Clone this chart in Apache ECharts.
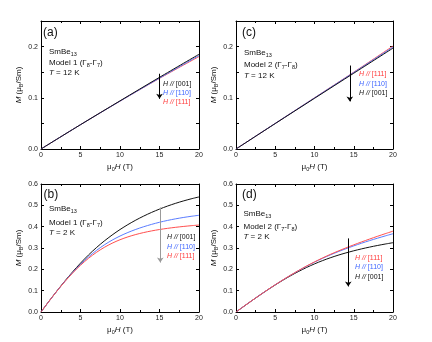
<!DOCTYPE html>
<html><head><meta charset="utf-8">
<script src="https://cdn.jsdelivr.net/npm/echarts@6/dist/echarts.min.js"></script>
<style>html,body{margin:0;padding:0;background:#fff}#c{width:432px;height:342px}</style>
</head><body><div id="c"></div>
<script>
// ---- data ----
const fieldsLin = [0, 5, 10, 15, 20];
const a001 = [0, 0.0475, 0.0940, 0.1400, 0.1850];
const a110 = [0, 0.0475, 0.0935, 0.1385, 0.1825];
const a111 = [0, 0.0475, 0.0935, 0.1380, 0.1805];
const c111 = [0, 0.0500, 0.1000, 0.1500, 0.2010];
const c110 = [0, 0.0500, 0.0998, 0.1495, 0.1990];
const c001 = [0, 0.0497, 0.0990, 0.1480, 0.1970];

const fields = [0,1,2,3,4,5,6,7,8,9,10,11,12,13,14,15,16,17,18,19,20];
const b001 = [0,0.0498,0.0980,0.1442,0.1880,0.2290,0.2668,0.3013,0.3325,0.3608,0.3865,0.4097,0.4307,0.4497,0.4669,0.4824,0.4964,0.5090,0.5203,0.5304,0.5394];
const b110 = [0,0.0497,0.0975,0.1427,0.1848,0.2233,0.2578,0.2881,0.3143,0.3368,0.3561,0.3727,0.3871,0.3997,0.4108,0.4206,0.4291,0.4365,0.4429,0.4485,0.4534];
const b111 = [0,0.0497,0.0972,0.1417,0.1825,0.2191,0.2513,0.2791,0.3027,0.3224,0.3387,0.3521,0.3632,0.3724,0.3801,0.3866,0.3921,0.3968,0.4009,0.4045,0.4077];
const d111 = [0,0.0265,0.0527,0.0784,0.1034,0.1276,0.1511,0.1737,0.1953,0.2157,0.2349,0.2529,0.2697,0.2855,0.3005,0.3148,0.3285,0.3417,0.3545,0.3669,0.3790];
const d110 = [0,0.0265,0.0527,0.0784,0.1034,0.1276,0.1510,0.1734,0.1947,0.2148,0.2337,0.2512,0.2674,0.2825,0.2966,0.3099,0.3225,0.3344,0.3457,0.3565,0.3669];
const d001 = [0,0.0265,0.0526,0.0782,0.1030,0.1269,0.1496,0.1709,0.1907,0.2089,0.2255,0.2405,0.2540,0.2661,0.2770,0.2869,0.2959,0.3041,0.3116,0.3185,0.3249];

// arrows: [x, yStart, yEnd]
const arrowA = [15, 0.147, 0.098];
const arrowC = [14.5, 0.163, 0.093];
const arrowB = [15.1, 0.49, 0.232];
const arrowD = [14.3, 0.345, 0.12];

// ---- styling ----
const FONT = 'Liberation Sans, Arial, sans-serif';
const BLACK = '#111111', BLUE = '#5a7cff', RED = '#ff4f4f';
const TXT_BLUE = '#3f66ff', TXT_RED = '#ff3b3b';

const grids = [
  {left: 41, top: 21, width: 158, height: 128},   // (a)
  {left: 236, top: 21, width: 157, height: 128},  // (c)
  {left: 41, top: 184, width: 158, height: 128},  // (b)
  {left: 236, top: 184, width: 157, height: 128}  // (d)
];
const yMax = [0.25, 0.25, 0.6, 0.6];
const yInt = [0.05, 0.05, 0.1, 0.1];

const subRich = {
  n: {fontSize: 8, fontFamily: FONT, lineHeight: 11, verticalAlign: 'middle', color: '#111'},
  i: {fontSize: 8, fontFamily: FONT, fontStyle: 'italic', lineHeight: 11, verticalAlign: 'middle', color: '#111'},
  s: {fontSize: 5.5, fontFamily: FONT, lineHeight: 11, verticalAlign: 'bottom', color: '#111'}
};

const xAxes = [], yAxes = [];
grids.forEach((g, k) => {
  xAxes.push({
    gridIndex: k, type: 'value', min: 0, max: 20, interval: 5, position: 'bottom',
    axisLine: {show: true, onZero: false, lineStyle: {color: '#000', width: 1}},
    axisTick: {show: true, inside: true, length: 3, lineStyle: {color: '#000'}},
    minorTick: {show: true, splitNumber: 2, length: 2, lineStyle: {color: '#000'}},
    splitLine: {show: false},
    axisLabel: {fontSize: 7, fontFamily: FONT, color: '#222', margin: 3},
    name: '{n|μ}{s|0}{i|H}{n| (T)}', nameLocation: 'middle', nameGap: 12,
    nameTextStyle: {rich: subRich}
  });
  xAxes.push({
    gridIndex: k, type: 'value', min: 0, max: 20, interval: 5, position: 'top',
    axisLine: {show: true, onZero: false, lineStyle: {color: '#000', width: 1}},
    axisTick: {show: true, inside: true, length: 3, lineStyle: {color: '#000'}},
    minorTick: {show: true, splitNumber: 2, length: 2, lineStyle: {color: '#000'}},
    splitLine: {show: false}, axisLabel: {show: false}
  });
  yAxes.push({
    gridIndex: k, type: 'value', min: 0, max: yMax[k], interval: yInt[k], position: 'left',
    axisLine: {show: true, onZero: false, lineStyle: {color: '#000', width: 1}},
    axisTick: {show: true, inside: true, length: 3, lineStyle: {color: '#000'}},
    splitLine: {show: false},
    axisLabel: {fontSize: 7, fontFamily: FONT, color: '#222', margin: 3, showMaxLabel: k >= 2,
      formatter: v => (Math.round(v * 100) % 10 === 0 ? v.toFixed(1) : '')},
    name: '{i|M}{n| (μ}{s|B}{n|/Sm)}', nameLocation: 'middle', nameGap: k % 2 === 0 ? 13 : 10.5,
    nameRotate: 90, nameTextStyle: {rich: subRich}
  });
  yAxes.push({
    gridIndex: k, type: 'value', min: 0, max: yMax[k], interval: yInt[k], position: 'right',
    axisLine: {show: true, onZero: false, lineStyle: {color: '#000', width: 1}},
    axisTick: {show: true, inside: true, length: 3, lineStyle: {color: '#000'}},
    splitLine: {show: false}, axisLabel: {show: false}
  });
});

function pairs(xs, ys) { return xs.map((x, i) => [x, ys[i]]); }
function line(k, xs, ys, color, arrow, arrowColor) {
  const s = {
    type: 'line', xAxisIndex: 2 * k, yAxisIndex: 2 * k, data: pairs(xs, ys),
    smooth: 0.3, showSymbol: false, symbol: 'none', silent: true,
    lineStyle: {color: color, width: 1}, z: 3
  };
  if (arrow) {
    s.markLine = {
      silent: true, symbol: ['none', 'arrow'], symbolSize: 5,
      label: {show: false}, emphasis: {disabled: true},
      lineStyle: {color: arrowColor, width: 1, type: 'solid'},
      data: [[{coord: [arrow[0], arrow[1]]}, {coord: [arrow[0], arrow[2]]}]]
    };
  }
  return s;
}

const series = [
  // (a)
  line(0, fieldsLin, a111, RED, arrowA, '#000'),
  line(0, fieldsLin, a110, BLUE),
  line(0, fieldsLin, a001, BLACK),
  // (c)
  line(1, fieldsLin, c111, RED, arrowC, '#000'),
  line(1, fieldsLin, c110, BLUE),
  line(1, fieldsLin, c001, BLACK),
  // (b)
  line(2, fields, b001, BLACK, arrowB, '#9a9a9a'),
  line(2, fields, b110, BLUE),
  line(2, fields, b111, RED),
  // (d)
  line(3, fields, d001, BLACK, arrowD, '#000'),
  line(3, fields, d110, BLUE),
  line(3, fields, d111, RED)
];

const txtRich = {
  s: {fontSize: 5.5, fontFamily: FONT, lineHeight: 11, verticalAlign: 'bottom', fill: '#111'},
  i: {fontSize: 8, fontFamily: FONT, fontStyle: 'italic', lineHeight: 11, verticalAlign: 'middle', fill: '#111'}
};
function T(text, x, y, size, color, rich) {
  return {type: 'text', x: x, y: y, z: 10, silent: true,
    style: {text: text, fontSize: size, fontFamily: FONT, fill: color || '#111',
      verticalAlign: 'middle', align: 'left', lineHeight: 11, rich: rich || txtRich}};
}
function L(text, x, y, color) {
  const r = {i: {fontSize: 7, fontFamily: FONT, fontStyle: 'italic', fill: color, lineHeight: 9, verticalAlign: 'middle'}};
  return {type: 'text', x: x, y: y, z: 10, silent: true,
    style: {text: text, fontSize: 7, fontFamily: FONT, fill: color, verticalAlign: 'middle', align: 'left', lineHeight: 9, rich: r}};
}

const graphic = [
  // (a)
  T('(a)', 43, 32.5, 12),
  T('SmBe{s|13}', 49, 51.5, 8),
  T('Model 1 (Γ{s|8}-Γ{s|7})', 49, 62.5, 8),
  T('{i|T} = 12 K', 49, 73, 8),
  L('{i|H //} [001]', 163, 84, BLACK),
  L('{i|H //} [110]', 163, 93.3, TXT_BLUE),
  L('{i|H //} [111]', 163, 102.5, TXT_RED),
  // (c)
  T('(c)', 242, 33, 12),
  T('SmBe{s|13}', 244, 52.5, 8),
  T('Model 2 (Γ{s|7}-Γ{s|8})', 244, 65, 8),
  T('{i|T} = 12 K', 244, 76, 8),
  L('{i|H //} [111]', 359, 74.3, TXT_RED),
  L('{i|H //} [110]', 359, 83.7, TXT_BLUE),
  L('{i|H //} [001]', 359, 92.7, BLACK),
  // (b)
  T('(b)', 43.5, 195, 12),
  T('SmBe{s|13}', 49, 208.5, 8),
  T('Model 1 (Γ{s|8}-Γ{s|7})', 49, 222.5, 8),
  T('{i|T} = 2 K', 49, 233, 8),
  L('{i|H //} [001]', 167, 237.3, BLACK),
  L('{i|H //} [110]', 167, 246.7, TXT_BLUE),
  L('{i|H //} [111]', 167, 256, TXT_RED),
  // (d)
  T('(d)', 242, 195, 12),
  T('SmBe{s|13}', 243.5, 213.5, 8),
  T('Model 2 (Γ{s|7}-Γ{s|8})', 243.5, 226.5, 8),
  T('{i|T} = 2 K', 243.5, 237, 8),
  L('{i|H //} [111]', 355, 258.3, TXT_RED),
  L('{i|H //} [110]', 355, 267.3, TXT_BLUE),
  L('{i|H //} [001]', 355, 276.7, BLACK)
];

const chart = echarts.init(document.getElementById('c'), null, {renderer: 'canvas'});
chart.setOption({
  animation: false,
  backgroundColor: '#fff',
  grid: grids,
  xAxis: xAxes,
  yAxis: yAxes,
  series: series,
  graphic: graphic
});
</script>
</body></html>
